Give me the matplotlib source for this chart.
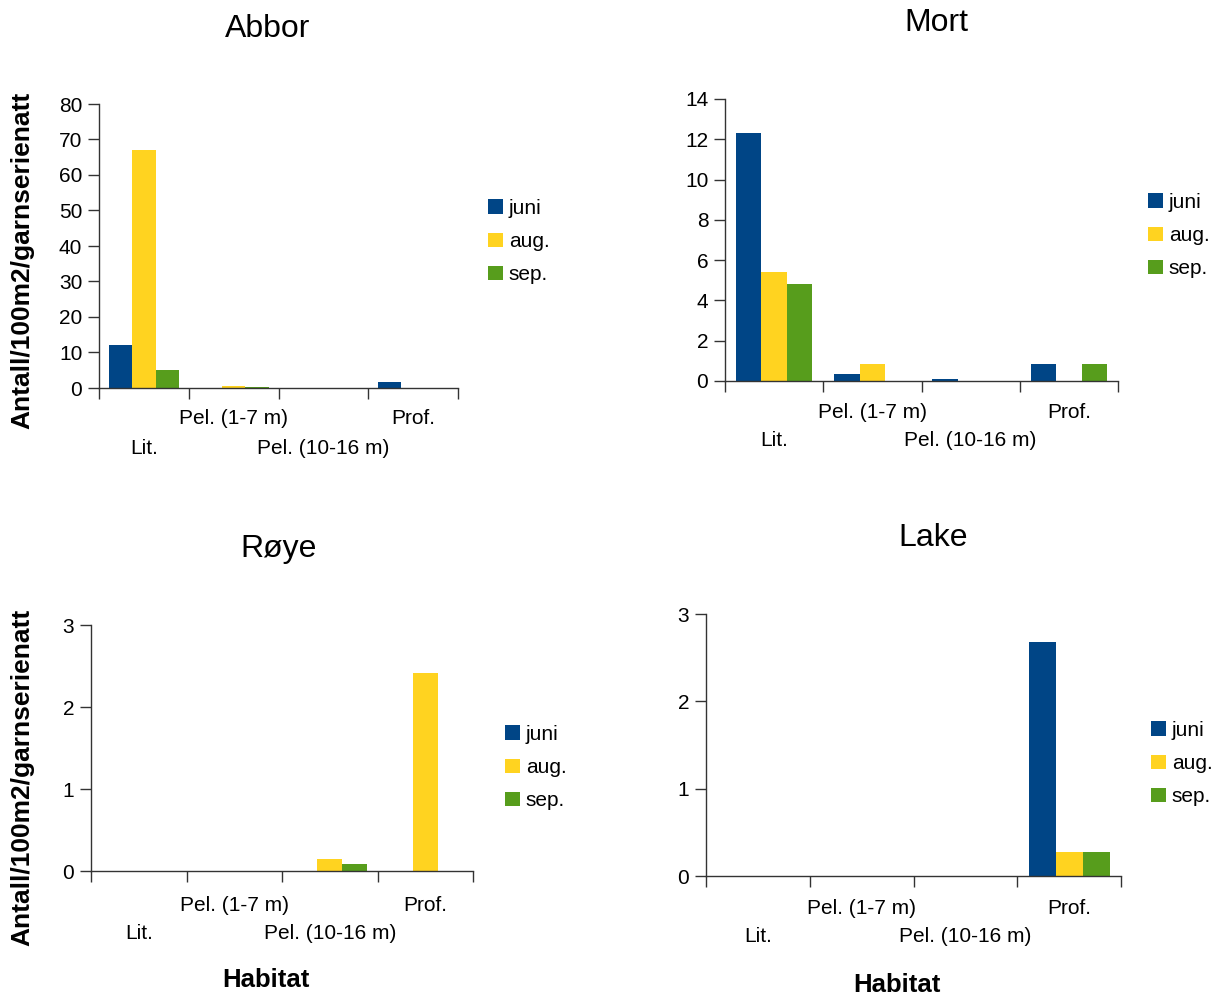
import matplotlib
matplotlib.use("Agg")
import matplotlib.pyplot as plt
import matplotlib.transforms as mtransforms
import numpy as np

plt.rcParams['font.family'] = ['Liberation Sans', 'DejaVu Sans']

categories = ["Lit.", "Pel. (1-7 m)", "Pel. (10-16 m)", "Prof."]
series_names = ["juni", "aug.", "sep."]
colors = ["#004586", "#FFD320", "#579D1C"]

abbor_juni = [12.0, 0.0, 0.0, 1.8]
abbor_aug = [67.0, 0.7, 0.0, 0.0]
abbor_sep = [5.0, 0.4, 0.0, 0.0]

mort_juni = [12.3, 0.35, 0.12, 0.85]
mort_aug = [5.4, 0.85, 0.0, 0.0]
mort_sep = [4.8, 0.0, 0.0, 0.85]

roye_juni = [0.0, 0.0, 0.0, 0.0]
roye_aug = [0.0, 0.0, 0.15, 2.42]
roye_sep = [0.0, 0.0, 0.08, 0.0]

lake_juni = [0.0, 0.0, 0.0, 2.68]
lake_aug = [0.0, 0.0, 0.0, 0.27]
lake_sep = [0.0, 0.0, 0.0, 0.27]

W, H = 1219, 996
fig = plt.figure(figsize=(W / 100, H / 100), dpi=100)

def fx(px):
    return px / W

def fy(py):
    return 1 - py / H

panels = [
    dict(title="Abbor", data=[abbor_juni, abbor_aug, abbor_sep], box=(99, 104, 458, 388),
         ymax=80, ystep=10, title_xy=(268, 29), legend_xy=(488, 199), lab_off=(31, 60)),
    dict(title="Mort", data=[mort_juni, mort_aug, mort_sep], box=(725, 99, 1118, 381),
         ymax=14, ystep=2, title_xy=(936, 23), legend_xy=(1148, 193), lab_off=(31, 59)),
    dict(title="Røye", data=[roye_juni, roye_aug, roye_sep], box=(91, 625, 473, 871),
         ymax=3, ystep=1, title_xy=(279, 549), legend_xy=(505, 725), lab_off=(34, 62)),
    dict(title="Lake", data=[lake_juni, lake_aug, lake_sep], box=(706, 614, 1121, 876),
         ymax=3, ystep=1, title_xy=(933, 538), legend_xy=(1151, 721), lab_off=(32, 60)),
]

w = 0.26
x = np.arange(len(categories)) + 0.5
for p in panels:
    l, t, r, b = p["box"]
    ax = fig.add_axes([fx(l), fy(b), fx(r - l), (b - t) / H])
    for k, (vals, name, c) in enumerate(zip(p["data"], series_names, colors)):
        ax.bar(x + (k - 1) * w, vals, width=w, color=c, label=name, linewidth=0)
    ax.set_xlim(0, len(categories))
    ax.set_ylim(0, p["ymax"])
    ax.set_yticks(np.arange(0, p["ymax"] + 0.001, p["ystep"]))
    ax.set_xticks(np.arange(0, len(categories) + 1))
    ax.set_xticklabels([])
    ax.tick_params(axis='both', direction='out', length=8, width=1, color='#333333',
                   labelsize=15, pad=4)
    for s in ["top", "right"]:
        ax.spines[s].set_visible(False)
    for s in ["left", "bottom"]:
        ax.spines[s].set_color('#333333')
        ax.spines[s].set_linewidth(1)
    trans = mtransforms.blended_transform_factory(ax.transData, ax.transAxes)
    for i, cat in enumerate(categories):
        off = p["lab_off"][0] if i % 2 == 1 else p["lab_off"][1]
        tr = trans + mtransforms.ScaledTranslation(0, -off / 100, fig.dpi_scale_trans)
        ax.text(x[i], 0, cat, transform=tr, ha='center', va='center', fontsize=15)
    fig.text(fx(p["title_xy"][0]), fy(p["title_xy"][1]), p["title"], ha='center',
             va='center', fontsize=23)
    ax.legend(loc='upper left', bbox_to_anchor=(fx(p["legend_xy"][0]), fy(p["legend_xy"][1])),
              bbox_transform=fig.transFigure, frameon=False, fontsize=15,
              handlelength=0.7, handleheight=0.7, handletextpad=0.3,
              labelspacing=0.68, borderpad=0, borderaxespad=0)

ylab = "Antall/100m2/garnserienatt"
fig.text(fx(22), fy(260), ylab, rotation=90, ha='center', va='center',
         fontsize=19, fontweight='bold')
fig.text(fx(22), fy(777), ylab, rotation=90, ha='center', va='center',
         fontsize=19, fontweight='bold')
fig.text(fx(266), fy(980), "Habitat", ha='center', va='center', fontsize=18.5, fontweight='bold')
fig.text(fx(897), fy(985), "Habitat", ha='center', va='center', fontsize=18.5, fontweight='bold')

fig.savefig("out.png", dpi=100)
